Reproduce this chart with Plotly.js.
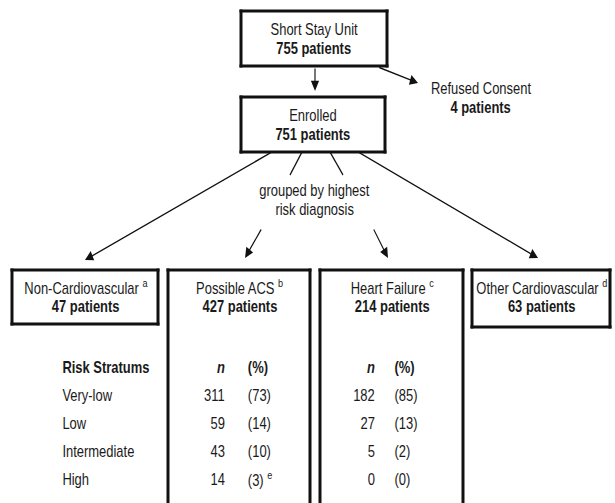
<!DOCTYPE html>
<html>
<head>
<meta charset="utf-8">
<script src="https://cdn.plot.ly/plotly-3.0.1.min.js"></script>
<style>
html,body{margin:0;padding:0;background:#fff;overflow:hidden;width:615px;height:503px;}
#wrap{width:615px;height:503px;overflow:hidden;position:relative;}
#chart{position:absolute;left:0;top:0;transform-origin:0 0;}
</style>
</head>
<body>
<div id="wrap"><div id="chart"></div></div>
<script>
// ---- data ----
const screenedLabel = 'Short Stay Unit';
const screenedN = 755;
const refusedLabel = 'Refused Consent';
const refusedN = 4;
const enrolledLabel = 'Enrolled';
const enrolledN = 751;
const groupingNote = ['grouped by highest', 'risk diagnosis'];
const groups = ['Non-Cardiovascular', 'Possible ACS', 'Heart Failure', 'Other Cardiovascular'];
const groupNotes = ['a', 'b', 'c', 'd'];
const groupN = [47, 427, 214, 63];
const strataHeader = 'Risk Stratums';
const strata = ['Very-low', 'Low', 'Intermediate', 'High'];
const acsN = [311, 59, 43, 14];
const acsPct = [73, 14, 10, 3];
const acsPctNotes = ['', '', '', 'e'];
const hfN = [182, 27, 5, 0];
const hfPct = [85, 13, 2, 0];

// ---- styling / geometry ----
// The reference uses a condensed sans face; emulate it by drawing wider and compressing horizontally.
const SX = 0.81;
const W = 615, H = 503;
const FONT = '"Liberation Sans", Arial, sans-serif';
const FS = 16;
const TXT = '#1a1a1a';
const LINE = '#111';
const BW = 3;

const shapes = [];
const annotations = [];

function ln(x0, y0, x1, y1, w) {
  shapes.push({type: 'line', xref: 'x', yref: 'y', x0, y0, x1, y1,
    line: {color: LINE, width: w}});
}
function box(x0, x1, y0, y1) {
  const hx = BW / 2, hy = BW / 2;
  ln(x0 - hx, y0, x1 + hx, y0, BW);
  ln(x0 - hx, y1, x1 + hx, y1, BW);
  ln(x0, y0 - hy, x0, y1 + hy, BW / SX);
  ln(x1, y0 - hy, x1, y1 + hy, BW / SX);
}
function seg(x0, y0, x1, y1) { ln(x0, y0, x1, y1, 1.4); }
function arrow(ax, ay, x, y) {
  annotations.push({x, y, ax, ay, xref: 'x', yref: 'y', axref: 'x', ayref: 'y',
    text: '', showarrow: true, arrowhead: 2, arrowsize: 1.45, arrowwidth: 1.4,
    arrowcolor: LINE, standoff: 0, startstandoff: 0});
}
function txt(x, y, text, opts) {
  annotations.push(Object.assign({x, y, xref: 'x', yref: 'y', text, showarrow: false,
    xanchor: 'center', yanchor: 'middle',
    font: {family: FONT, size: FS, color: TXT}}, opts || {}));
}
const sup = s => s ? '<sup>' + s + '</sup>' : '';

// top boxes
box(241, 387, 11, 66);
txt(314, 29, screenedLabel);
txt(314, 48, '<b>' + screenedN + ' patients</b>');
box(241, 385, 97, 152);
txt(313, 115, enrolledLabel);
txt(313, 134, '<b>' + enrolledN + ' patients</b>');

arrow(315, 67, 315, 91);
arrow(378, 67, 418, 83);
txt(481, 88, refusedLabel);
txt(481, 107, '<b>' + refusedN + ' patients</b>');

// grouping
txt(315, 190, groupingNote[0]);
txt(315, 209, groupingNote[1]);
arrow(272, 152, 85, 260);
seg(302, 152, 290, 175);
arrow(262, 228, 245, 258);
seg(330, 152, 343, 175);
arrow(373, 228, 388, 258);
arrow(358, 152, 538, 258);

// group boxes
const gx = [[12, 158], [168, 310], [320, 463], [472, 610]];
const gy = [[270, 324], [270, 540], [270, 540], [270, 327]];
groups.forEach((g, i) => {
  box(gx[i][0], gx[i][1], gy[i][0], gy[i][1]);
  const cx = (gx[i][0] + gx[i][1]) / 2 + 1;
  txt(cx, 287, g + ' ' + sup(groupNotes[i]));
  txt(cx, 306, '<b>' + groupN[i] + ' patients</b>');
});

// table
const rowY = [367, 395, 423, 451, 479];
txt(61, rowY[0], '<b>' + strataHeader + '</b>', {xanchor: 'left'});
txt(227, rowY[0], '<b><i>n</i></b>', {xanchor: 'right'});
txt(246, rowY[0], '<b>(%)</b>', {xanchor: 'left'});
txt(377, rowY[0], '<b><i>n</i></b>', {xanchor: 'right'});
txt(393, rowY[0], '<b>(%)</b>', {xanchor: 'left'});
strata.forEach((s, i) => {
  const y = rowY[i + 1];
  txt(61, y, s, {xanchor: 'left'});
  txt(227, y, String(acsN[i]), {xanchor: 'right'});
  txt(246, y, '(' + acsPct[i] + ')' + (acsPctNotes[i] ? ' ' + sup(acsPctNotes[i]) : ''), {xanchor: 'left'});
  txt(377, y, String(hfN[i]), {xanchor: 'right'});
  txt(393, y, '(' + hfPct[i] + ')', {xanchor: 'left'});
});

const el = document.getElementById('chart');
const PW = Math.round(W / SX);
el.style.width = PW + 'px';
el.style.height = H + 'px';
el.style.transform = 'scaleX(' + SX + ')';

const layout = {
  width: PW, height: H,
  margin: {l: 0, r: 0, t: 0, b: 0},
  paper_bgcolor: '#fff', plot_bgcolor: '#fff',
  xaxis: {range: [0, W * PW / (W / SX) ], visible: false, fixedrange: true},
  yaxis: {range: [H, 0], visible: false, fixedrange: true},
  showlegend: false,
  shapes, annotations
};
Plotly.newPlot('chart', [], layout, {staticPlot: true, displayModeBar: false});
</script>
</body>
</html>
